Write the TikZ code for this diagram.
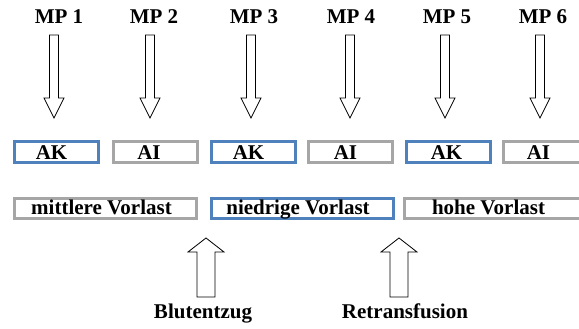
\documentclass[tikz,border=0pt]{standalone}
\usepackage{fontspec}
\setmainfont{Liberation Serif}
\definecolor{boxblue}{HTML}{4F81BD}
\definecolor{boxgray}{HTML}{A6A6A6}
\tikzset{
  txt/.style={font=\fontsize{21}{23}\selectfont\bfseries, inner sep=0pt},
  lbl/.style={txt, anchor=base},
  phase/.style={draw, line width=3pt, minimum width=84pt, minimum height=21pt,
    inner sep=0pt, fill=white},
  phaseak/.style={phase, draw=boxblue},
  phaseai/.style={phase, draw=boxgray},
  load/.style={draw, line width=3pt, minimum width=182pt, minimum height=20pt,
    inner sep=0pt, fill=white},
  blockarrow/.style={draw=black, line width=0.8pt, fill=white, line join=miter},
  downarr/.pic={\draw[blockarrow] (-4.5,0) -- (-4.5,63) -- (-10,63) -- (0,83)
    -- (10,63) -- (4.5,63) -- (4.5,0) -- cycle;},
  uparr/.pic={\draw[blockarrow] (-9,0) -- (-9,-45) -- (-18,-45) -- (0,-59)
    -- (18,-45) -- (9,-45) -- (9,0) -- cycle;}
}
\begin{document}
\begin{tikzpicture}[x=1pt,y=-1pt]
\useasboundingbox (0,0) rectangle (579,329);
\clip (0,0) rectangle (579,329);

% measuring points
\foreach \i/\x/\ax in {1/59/54, 2/154/150, 3/254/251, 4/351/350, 5/447/445, 6/543/540}{
  \node[lbl] (mp\i) at (\x,24) {MP \i};
  \pic at (\ax,35) {downarr};
}

% alternating phases: frames, then their labels
\node[phaseak] (p1) at (56.5,152) {};
\node[phaseai] (p2) at (155,152) {};
\node[phaseak] (p3) at (253.5,152) {};
\node[phaseai] (p4) at (350,152) {};
\node[phaseak] (p5) at (448,152) {};
\node[phaseai] (p6) at (545.5,152) {};
\foreach \b/\t/\dx in {p1/AK/-5, p2/AI/-6, p3/AK/-5, p4/AI/-4.5, p5/AK/-1.5, p6/AI/-7}{
  \node[lbl] (t\b) at ([xshift=\dx pt, yshift=-7pt]\b.center) {\t};
}

% preload levels
\node[load, draw=boxgray] (l1) at (105.5,208.5) {};
\node[load, draw=boxblue] (l2) at (302.5,208.5) {};
\node[load, draw=boxgray] (l3) at (495.5,208.5) {};
\node[lbl] (tl1) at ([xshift=-4pt, yshift=-6pt]l1.center) {mittlere Vorlast};
\node[lbl] (tl2) at ([xshift=-4.5pt, yshift=-6pt]l2.center) {niedrige Vorlast};
\node[lbl] (tl3) at ([xshift=-7pt, yshift=-6pt]l3.center) {hohe Vorlast};

% interventions
\pic at (206,297) {uparr};
\pic at (399,297) {uparr};
\node[lbl] (blut) at (203,318.5) {Blutentzug};
\node[lbl] (retr) at (405,318.5) {Retransfusion};
\end{tikzpicture}
\end{document}
